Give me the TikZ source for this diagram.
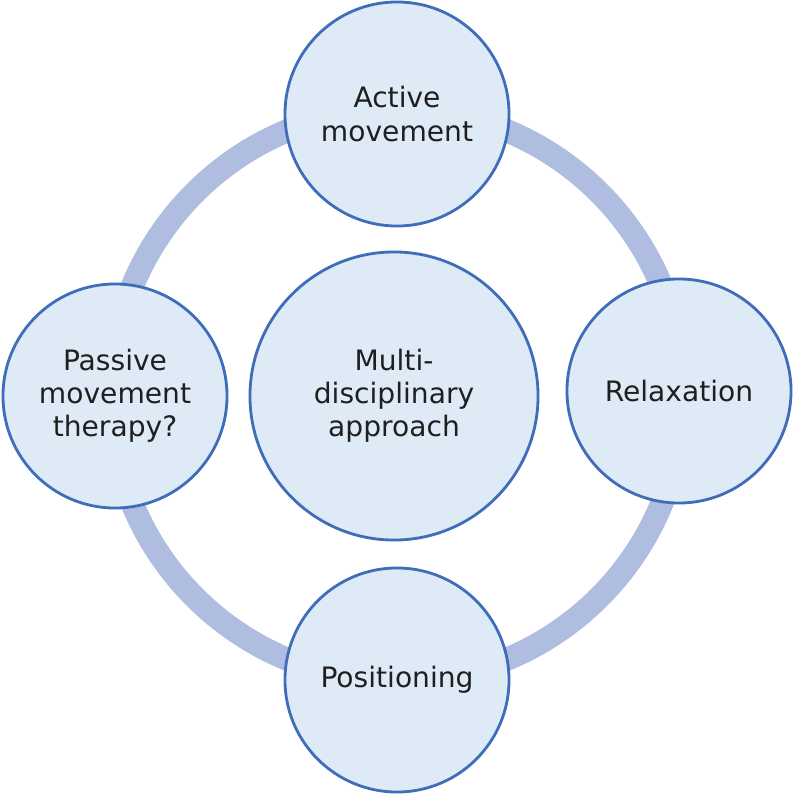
\documentclass[tikz,border=0pt]{standalone}
\usepackage{fontspec}
\setmainfont{DejaVu Sans}
\definecolor{ringblue}{HTML}{AEBDE0}
\definecolor{fillblue}{HTML}{DEEAF6}
\definecolor{edgeblue}{HTML}{3F6DB9}
\definecolor{textgray}{HTML}{1F1F1F}
\begin{document}
\begin{tikzpicture}[x=0.025cm,y=-0.025cm,every node/.style={circle,draw=edgeblue,line width=2pt,fill=fillblue,align=center,text=textgray,font=\fontsize{20}{23.5}\selectfont,inner sep=0pt,minimum size=5.6cm}]
\useasboundingbox (0,0) rectangle (794,795);
\coordinate (hub) at (397,395);
\draw[ringblue,line width=16.5pt] (hub) circle [radius=7.15cm];
\node (active) at (397,114) {Active\\movement};
\node (relax) at (679,391) {Relaxation};
\node (position) at (397,680) {Positioning};
\node (passive) at (115,396) {Passive\\movement\\therapy?};
\node[minimum size=7.2cm] (multi) at (394,396) {Multi-\\disciplinary\\approach};
\end{tikzpicture}
\end{document}
